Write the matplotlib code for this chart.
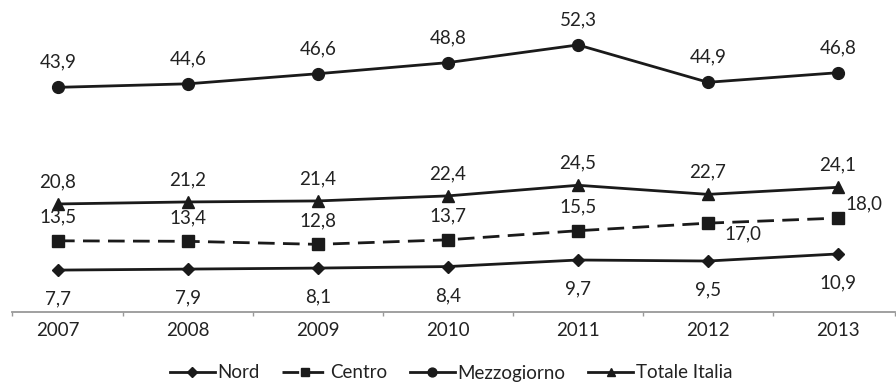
import matplotlib
matplotlib.use("Agg")
import matplotlib.pyplot as plt
import matplotlib.transforms as mtrans

years = ["2007", "2008", "2009", "2010", "2011", "2012", "2013"]
nord = [7.7, 7.9, 8.1, 8.4, 9.7, 9.5, 10.9]
centro = [13.5, 13.4, 12.8, 13.7, 15.5, 17.0, 18.0]
mezzogiorno = [43.9, 44.6, 46.6, 48.8, 52.3, 44.9, 46.8]
totale = [20.8, 21.2, 21.4, 22.4, 24.5, 22.7, 24.1]

plt.rcParams['font.family'] = ['Lato', 'DejaVu Sans']
txt = '#222222'
lc = '#1a1a1a'

fig = plt.figure(figsize=(8.96, 3.84), dpi=100)
W, H = 896, 384
ax = fig.add_axes([12 / W, 1 - 312 / H, (895 - 12) / W, 312 / H])
x = list(range(len(years)))

lw = 2.0
ax.plot(x, nord, color=lc, lw=lw, marker='D', ms=6.5, label='Nord')
ax.plot(x, centro, color=lc, lw=lw, ls=(0, (6, 3)), marker='s', ms=8, label='Centro')
ax.plot(x, mezzogiorno, color=lc, lw=lw, marker='o', ms=8.5, label='Mezzogiorno')
ax.plot(x, totale, color=lc, lw=lw, marker='^', ms=8, label='Totale Italia')

def fmt(v):
    return f"{v:.1f}".replace('.', ',')

fs = 13.5
for i, v in enumerate(mezzogiorno):
    ax.annotate(fmt(v), (i, v), xytext=(0, 18), textcoords='offset points',
                ha='center', va='center', fontsize=fs, color=txt)
for i, v in enumerate(totale):
    ax.annotate(fmt(v), (i, v), xytext=(0, 16), textcoords='offset points',
                ha='center', va='center', fontsize=fs, color=txt)
for i, v in enumerate(centro):
    if i <= 4:
        off = (0, 17)
    elif i == 5:
        off = (25, -8)
    else:
        off = (19, 10)
    ax.annotate(fmt(v), (i, v), xytext=off, textcoords='offset points',
                ha='center', va='center', fontsize=fs, color=txt)
for i, v in enumerate(nord):
    ax.annotate(fmt(v), (i, v), xytext=(0, -21), textcoords='offset points',
                ha='center', va='center', fontsize=fs, color=txt)

ax.set_xlim(-0.5 + 19 / 130, 6.5 - 8 / 130)
ax.set_ylim(-0.6, 61.2)
for s in ['top', 'right', 'left']:
    ax.spines[s].set_visible(False)
ax.spines['bottom'].set_color('#999999')
ax.spines['bottom'].set_linewidth(1.3)
ax.set_yticks([])
lo, hi = ax.get_xlim()
ax.set_xticks([lo, 0.5, 1.5, 2.5, 3.5, 4.5, 5.5, hi])
ax.set_xticklabels([])
ax.tick_params(axis='x', length=3, color='#999999', width=1)
off = mtrans.ScaledTranslation(0, -7 / 72, fig.dpi_scale_trans)
for i, y in enumerate(years):
    ax.text(i, -0.6, y, transform=ax.transData + off, ha='center', va='top',
            fontsize=fs, color=txt)

fig.legend(handles=ax.get_lines(), loc='center', bbox_to_anchor=(451 / W, 1 - 373 / H),
           ncol=4, frameon=False, fontsize=fs, handlelength=2.4, handletextpad=0.15,
           columnspacing=1.2, labelcolor=txt, markerscale=0.75)

fig.savefig('out.png', dpi=100)
